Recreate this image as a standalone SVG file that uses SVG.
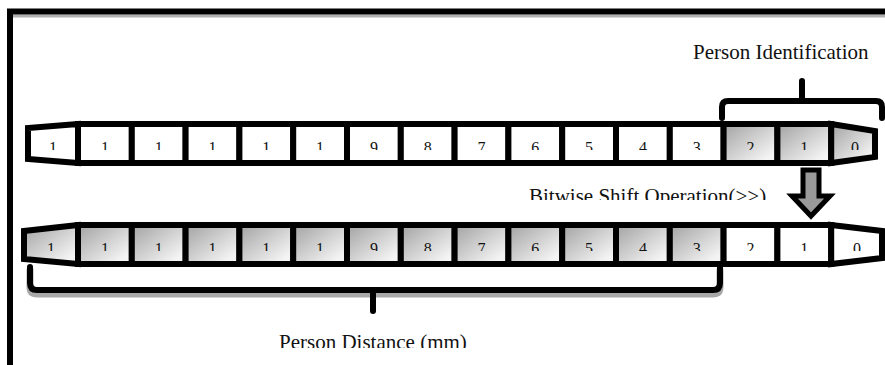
<svg xmlns="http://www.w3.org/2000/svg" width="885" height="365" viewBox="0 0 885 365">
  <defs>
    <linearGradient id="shade" x1="0" y1="0" x2="1" y2="1">
      <stop offset="0" stop-color="#a2a2a2"/>
      <stop offset="0.85" stop-color="#f4f4f4"/>
    </linearGradient>
    <clipPath id="clipTopDigits"><rect x="0" y="120" width="885" height="30"/></clipPath>
    <clipPath id="clipBotDigits"><rect x="0" y="220" width="885" height="31"/></clipPath>
    <clipPath id="clipShift"><rect x="500" y="170" width="300" height="30"/></clipPath>
    <clipPath id="clipDist"><rect x="250" y="320" width="260" height="28"/></clipPath>
    <style>
      .cell { stroke: #000; stroke-width: 6; stroke-linejoin: miter; }
      .plain { fill: #fff; }
      .shaded { fill: url(#shade); }
      .digit { font-family: "Liberation Serif", "Times New Roman", serif; font-size: 16px; fill: #111; text-anchor: middle; }
      .label { font-family: "Liberation Serif", "Times New Roman", serif; font-size: 21px; fill: #111; }
      .brace { fill: none; stroke: #000; stroke-width: 6; stroke-linecap: round; stroke-linejoin: round; }
      .brace-shadow { fill: none; stroke: #a8a8a8; stroke-width: 7; stroke-linecap: round; stroke-linejoin: round; }
    </style>
  </defs>

  <rect width="885" height="365" fill="#fff"/>

  <!-- frame -->
  <g id="frame">
    <line x1="13" y1="16" x2="885" y2="16" stroke="#b0b0b0" stroke-width="3"/>
    <path d="M10,365 V11.5 H885" fill="none" stroke="#000" stroke-width="6"/>
  </g>

  <!-- register before the shift -->
  <g id="register-top">
    <g id="top-b15"><polygon class="cell plain" points="78,124 28,128 28,159 78,163"/><text class="digit" x="53" y="153" clip-path="url(#clipTopDigits)">1</text></g>
    <g id="top-b14"><rect class="cell plain" x="78" y="124" width="53.8" height="39"/><text class="digit" x="104.9" y="153" clip-path="url(#clipTopDigits)">1</text></g>
    <g id="top-b13"><rect class="cell plain" x="131.8" y="124" width="53.8" height="39"/><text class="digit" x="158.7" y="153" clip-path="url(#clipTopDigits)">1</text></g>
    <g id="top-b12"><rect class="cell plain" x="185.6" y="124" width="53.8" height="39"/><text class="digit" x="212.5" y="153" clip-path="url(#clipTopDigits)">1</text></g>
    <g id="top-b11"><rect class="cell plain" x="239.4" y="124" width="53.8" height="39"/><text class="digit" x="266.3" y="153" clip-path="url(#clipTopDigits)">1</text></g>
    <g id="top-b10"><rect class="cell plain" x="293.2" y="124" width="53.8" height="39"/><text class="digit" x="320.1" y="153" clip-path="url(#clipTopDigits)">1</text></g>
    <g id="top-b9"><rect class="cell plain" x="347" y="124" width="53.8" height="39"/><text class="digit" x="373.9" y="153" clip-path="url(#clipTopDigits)">9</text></g>
    <g id="top-b8"><rect class="cell plain" x="400.8" y="124" width="53.8" height="39"/><text class="digit" x="427.7" y="153" clip-path="url(#clipTopDigits)">8</text></g>
    <g id="top-b7"><rect class="cell plain" x="454.6" y="124" width="53.8" height="39"/><text class="digit" x="481.5" y="153" clip-path="url(#clipTopDigits)">7</text></g>
    <g id="top-b6"><rect class="cell plain" x="508.4" y="124" width="53.8" height="39"/><text class="digit" x="535.3" y="153" clip-path="url(#clipTopDigits)">6</text></g>
    <g id="top-b5"><rect class="cell plain" x="562.2" y="124" width="53.8" height="39"/><text class="digit" x="589.1" y="153" clip-path="url(#clipTopDigits)">5</text></g>
    <g id="top-b4"><rect class="cell plain" x="616" y="124" width="53.8" height="39"/><text class="digit" x="642.9" y="153" clip-path="url(#clipTopDigits)">4</text></g>
    <g id="top-b3"><rect class="cell plain" x="669.8" y="124" width="53.8" height="39"/><text class="digit" x="696.7" y="153" clip-path="url(#clipTopDigits)">3</text></g>
    <g id="top-b2"><rect class="cell shaded" x="723.6" y="124" width="53.8" height="39"/><text class="digit" x="750.5" y="153" clip-path="url(#clipTopDigits)">2</text></g>
    <g id="top-b1"><rect class="cell shaded" x="777.4" y="124" width="53.8" height="39"/><text class="digit" x="804.3" y="153" clip-path="url(#clipTopDigits)">1</text></g>
    <g id="top-b0"><polygon class="cell shaded" points="831.2,124 875,131 875,157 831.2,163"/><text class="digit" x="855" y="153" clip-path="url(#clipTopDigits)">0</text></g>
  </g>

  <!-- register after the shift -->
  <g id="register-bottom">
    <g id="bot-b15"><polygon class="cell shaded" points="78,225 24,231 24,259 78,264"/><text class="digit" x="51" y="254" clip-path="url(#clipBotDigits)">1</text></g>
    <g id="bot-b14"><rect class="cell shaded" x="78" y="225" width="53.8" height="39"/><text class="digit" x="104.9" y="254" clip-path="url(#clipBotDigits)">1</text></g>
    <g id="bot-b13"><rect class="cell shaded" x="131.8" y="225" width="53.8" height="39"/><text class="digit" x="158.7" y="254" clip-path="url(#clipBotDigits)">1</text></g>
    <g id="bot-b12"><rect class="cell shaded" x="185.6" y="225" width="53.8" height="39"/><text class="digit" x="212.5" y="254" clip-path="url(#clipBotDigits)">1</text></g>
    <g id="bot-b11"><rect class="cell shaded" x="239.4" y="225" width="53.8" height="39"/><text class="digit" x="266.3" y="254" clip-path="url(#clipBotDigits)">1</text></g>
    <g id="bot-b10"><rect class="cell shaded" x="293.2" y="225" width="53.8" height="39"/><text class="digit" x="320.1" y="254" clip-path="url(#clipBotDigits)">1</text></g>
    <g id="bot-b9"><rect class="cell shaded" x="347" y="225" width="53.8" height="39"/><text class="digit" x="373.9" y="254" clip-path="url(#clipBotDigits)">9</text></g>
    <g id="bot-b8"><rect class="cell shaded" x="400.8" y="225" width="53.8" height="39"/><text class="digit" x="427.7" y="254" clip-path="url(#clipBotDigits)">8</text></g>
    <g id="bot-b7"><rect class="cell shaded" x="454.6" y="225" width="53.8" height="39"/><text class="digit" x="481.5" y="254" clip-path="url(#clipBotDigits)">7</text></g>
    <g id="bot-b6"><rect class="cell shaded" x="508.4" y="225" width="53.8" height="39"/><text class="digit" x="535.3" y="254" clip-path="url(#clipBotDigits)">6</text></g>
    <g id="bot-b5"><rect class="cell shaded" x="562.2" y="225" width="53.8" height="39"/><text class="digit" x="589.1" y="254" clip-path="url(#clipBotDigits)">5</text></g>
    <g id="bot-b4"><rect class="cell shaded" x="616" y="225" width="53.8" height="39"/><text class="digit" x="642.9" y="254" clip-path="url(#clipBotDigits)">4</text></g>
    <g id="bot-b3"><rect class="cell shaded" x="669.8" y="225" width="53.8" height="39"/><text class="digit" x="696.7" y="254" clip-path="url(#clipBotDigits)">3</text></g>
    <g id="bot-b2"><rect class="cell plain" x="723.6" y="225" width="53.8" height="39"/><text class="digit" x="750.5" y="254" clip-path="url(#clipBotDigits)">2</text></g>
    <g id="bot-b1"><rect class="cell plain" x="777.4" y="225" width="53.8" height="39"/><text class="digit" x="804.3" y="254" clip-path="url(#clipBotDigits)">1</text></g>
    <g id="bot-b0"><polygon class="cell plain" points="831.2,225 882,231 882,258 831.2,264"/><text class="digit" x="857" y="254" clip-path="url(#clipBotDigits)">0</text></g>
  </g>

  <!-- brackets and shift arrow -->
  <g id="connectors">
    <g id="brace-id">
      <path class="brace" d="M722,118 V107 Q722,101 728,101 H876 Q882,101 882,107 V118"/>
      <path class="brace" d="M802,101 V81"/>
    </g>
    <g id="brace-distance">
      <path class="brace-shadow" d="M30,270 V287 Q30,294 37,294 H713 Q720,294 720,287 V270"/>
      <path class="brace" d="M30,267 V283 Q30,290 37,290 H713 Q720,290 720,283 V267"/>
      <path class="brace" d="M373,290 V311"/>
    </g>
    <g id="shift-arrow">
      <polygon points="803,170 819,170 819,196 830,196 811,216 792,196 803,196" fill="#9a9a9a" stroke="#000" stroke-width="5" stroke-linejoin="miter"/>
    </g>
  </g>

  <g id="labels">
    <text id="label-id" class="label" x="693" y="59">Person Identification</text>
    <text id="label-shift" class="label" x="529" y="203" clip-path="url(#clipShift)">Bitwise Shift Operation(&gt;&gt;)</text>
    <text id="label-distance" class="label" x="279" y="349" clip-path="url(#clipDist)">Person Distance (mm)</text>
  </g>
</svg>
